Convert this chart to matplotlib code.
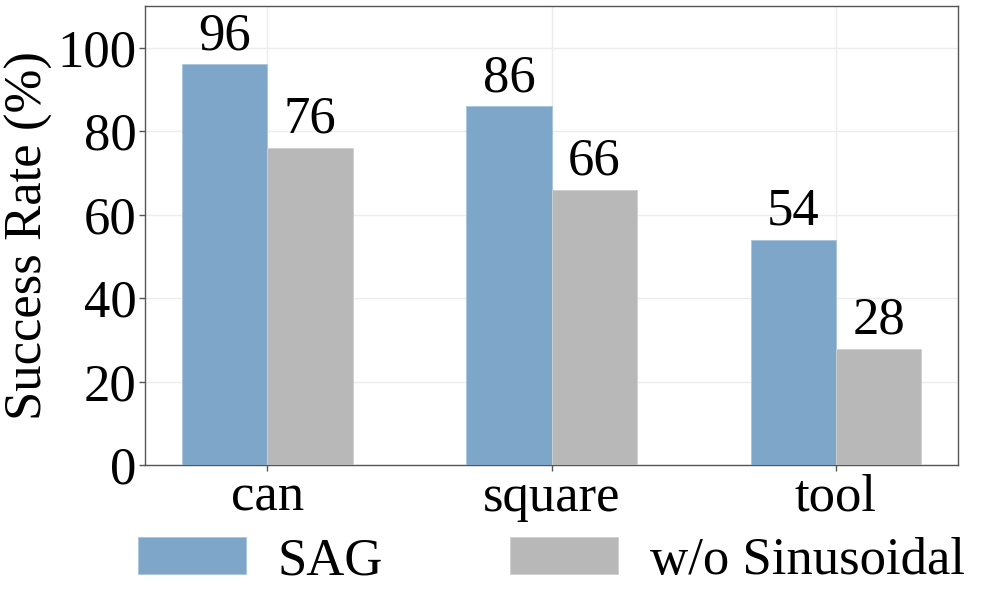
import numpy as np
import matplotlib
matplotlib.use("Agg")
import matplotlib.pyplot as plt

tasks = ["can", "square", "tool"]
sag = [96, 86, 54]
wo_sin = [76, 66, 28]
series_names = ["SAG", "w/o Sinusoidal"]
y_ticks = [0, 20, 40, 60, 80, 100]

plt.rcParams["font.family"] = ["Liberation Serif", "DejaVu Serif"]
FS = 38

fig = plt.figure(figsize=(9.97, 6.14), dpi=100)
ax = fig.add_axes([0.1454, 0.2419, 0.8156, 0.7483])

x = np.arange(len(tasks))
w = 0.3
b1 = ax.bar(x - w / 2, sag, w, color="#7ea6c9", edgecolor="#a9c4dc", linewidth=0.6,
            label=series_names[0], zorder=3)
b2 = ax.bar(x + w / 2, wo_sin, w, color="#b8b8b8", edgecolor="#cfcfcf", linewidth=0.6,
            label=series_names[1], zorder=3)
ax.bar_label(b1, fontsize=FS, padding=3)
ax.bar_label(b2, fontsize=FS, padding=3)

ax.set_xlim(-0.43, 2.43)
ax.set_ylim(0, 110)
ax.set_xticks(x)
ax.set_xticklabels(tasks)
ax.set_yticks(y_ticks)
ax.tick_params(labelsize=FS, color="#555555", length=4, width=1, pad=2)
ax.set_ylabel("Success Rate (%)", fontsize=FS, labelpad=3)
ax.grid(True, color="#ececec", lw=1, zorder=0)
ax.set_axisbelow(True)
for s in ax.spines.values():
    s.set_color("#555555")
    s.set_linewidth(1)

fig.legend(loc="center", bbox_to_anchor=(0.553, 0.086), ncol=2, frameon=False,
           fontsize=FS, handlelength=2.05, handleheight=0.7, handletextpad=0.6,
           columnspacing=2.4)

fig.savefig("out.png", dpi=100)
